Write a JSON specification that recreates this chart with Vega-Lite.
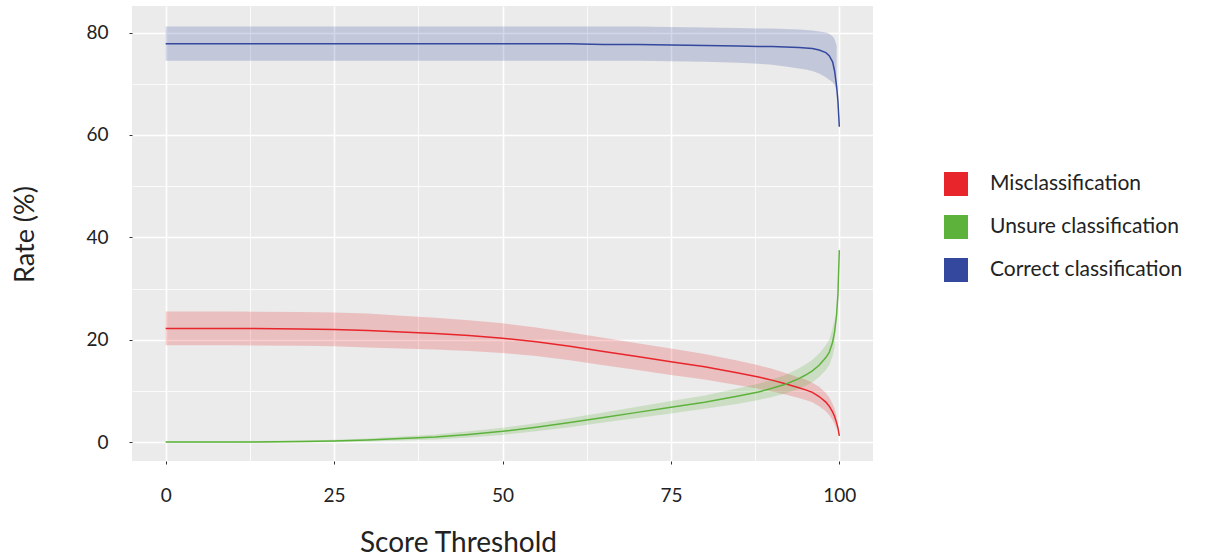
{
  "$schema": "https://vega.github.io/schema/vega-lite/v6.json",
  "autosize": "none",
  "width": 741,
  "height": 455,
  "padding": {"left": 132, "top": 6, "right": 333, "bottom": 96},
  "background": "white",
  "config": {
    "view": {"fill": "#EBEBEB", "stroke": null},
    "font": "Lato"
  },
  "data": {"values": [
    {"s":"Misclassification","x":0,"m":22.2,"lo":18.9,"hi":25.5},
    {"s":"Misclassification","x":10,"m":22.2,"lo":18.9,"hi":25.5},
    {"s":"Misclassification","x":20,"m":22.1,"lo":18.8,"hi":25.4},
    {"s":"Misclassification","x":25,"m":22.0,"lo":18.7,"hi":25.3},
    {"s":"Misclassification","x":30,"m":21.8,"lo":18.5,"hi":25.1},
    {"s":"Misclassification","x":35,"m":21.5,"lo":18.3,"hi":24.7},
    {"s":"Misclassification","x":40,"m":21.2,"lo":18.1,"hi":24.3},
    {"s":"Misclassification","x":45,"m":20.8,"lo":17.8,"hi":23.8},
    {"s":"Misclassification","x":50,"m":20.3,"lo":17.4,"hi":23.2},
    {"s":"Misclassification","x":55,"m":19.6,"lo":16.8,"hi":22.4},
    {"s":"Misclassification","x":60,"m":18.7,"lo":16.0,"hi":21.4},
    {"s":"Misclassification","x":65,"m":17.7,"lo":15.0,"hi":20.4},
    {"s":"Misclassification","x":70,"m":16.7,"lo":14.1,"hi":19.3},
    {"s":"Misclassification","x":75,"m":15.7,"lo":13.1,"hi":18.3},
    {"s":"Misclassification","x":80,"m":14.7,"lo":12.2,"hi":17.2},
    {"s":"Misclassification","x":85,"m":13.5,"lo":11.1,"hi":15.9},
    {"s":"Misclassification","x":88,"m":12.7,"lo":10.4,"hi":15.0},
    {"s":"Misclassification","x":90,"m":12.1,"lo":9.9,"hi":14.3},
    {"s":"Misclassification","x":92,"m":11.4,"lo":9.3,"hi":13.5},
    {"s":"Misclassification","x":94,"m":10.6,"lo":8.6,"hi":12.6},
    {"s":"Misclassification","x":95,"m":10.2,"lo":8.2,"hi":12.2},
    {"s":"Misclassification","x":96,"m":9.7,"lo":7.8,"hi":11.6},
    {"s":"Misclassification","x":97,"m":8.9,"lo":7.0,"hi":10.8},
    {"s":"Misclassification","x":98,"m":7.8,"lo":6.0,"hi":9.6},
    {"s":"Misclassification","x":98.5,"m":7.0,"lo":5.3,"hi":8.7},
    {"s":"Misclassification","x":99,"m":5.9,"lo":4.3,"hi":7.5},
    {"s":"Misclassification","x":99.3,"m":5.0,"lo":3.5,"hi":6.5},
    {"s":"Misclassification","x":99.6,"m":3.8,"lo":2.5,"hi":5.1},
    {"s":"Misclassification","x":99.8,"m":2.7,"lo":null,"hi":null},
    {"s":"Misclassification","x":100,"m":1.2,"lo":null,"hi":null},
    {"s":"Unsure classification","x":0,"m":0.0,"lo":-0.2,"hi":0.2},
    {"s":"Unsure classification","x":10,"m":0.0,"lo":-0.2,"hi":0.2},
    {"s":"Unsure classification","x":20,"m":0.1,"lo":-0.1,"hi":0.3},
    {"s":"Unsure classification","x":25,"m":0.2,"lo":-0.05,"hi":0.45},
    {"s":"Unsure classification","x":30,"m":0.4,"lo":0.1,"hi":0.7},
    {"s":"Unsure classification","x":35,"m":0.7,"lo":0.3,"hi":1.1},
    {"s":"Unsure classification","x":40,"m":1.0,"lo":0.5,"hi":1.5},
    {"s":"Unsure classification","x":45,"m":1.5,"lo":0.9,"hi":2.1},
    {"s":"Unsure classification","x":50,"m":2.1,"lo":1.4,"hi":2.8},
    {"s":"Unsure classification","x":55,"m":2.9,"lo":2.1,"hi":3.7},
    {"s":"Unsure classification","x":60,"m":3.8,"lo":2.9,"hi":4.7},
    {"s":"Unsure classification","x":65,"m":4.8,"lo":3.8,"hi":5.8},
    {"s":"Unsure classification","x":70,"m":5.8,"lo":4.7,"hi":6.9},
    {"s":"Unsure classification","x":75,"m":6.8,"lo":5.6,"hi":8.0},
    {"s":"Unsure classification","x":80,"m":7.8,"lo":6.5,"hi":9.1},
    {"s":"Unsure classification","x":85,"m":9.0,"lo":7.5,"hi":10.5},
    {"s":"Unsure classification","x":88,"m":9.8,"lo":8.2,"hi":11.4},
    {"s":"Unsure classification","x":90,"m":10.5,"lo":8.8,"hi":12.2},
    {"s":"Unsure classification","x":92,"m":11.3,"lo":9.5,"hi":13.1},
    {"s":"Unsure classification","x":94,"m":12.4,"lo":10.4,"hi":14.4},
    {"s":"Unsure classification","x":95,"m":13.1,"lo":11.0,"hi":15.2},
    {"s":"Unsure classification","x":96,"m":13.9,"lo":11.7,"hi":16.1},
    {"s":"Unsure classification","x":97,"m":15.0,"lo":12.7,"hi":17.3},
    {"s":"Unsure classification","x":98,"m":16.5,"lo":14.1,"hi":18.9},
    {"s":"Unsure classification","x":98.5,"m":17.5,"lo":15.0,"hi":20.0},
    {"s":"Unsure classification","x":99,"m":19.5,"lo":16.8,"hi":22.2},
    {"s":"Unsure classification","x":99.3,"m":21.5,"lo":18.6,"hi":24.4},
    {"s":"Unsure classification","x":99.6,"m":25.0,"lo":null,"hi":null},
    {"s":"Unsure classification","x":99.8,"m":29.0,"lo":null,"hi":null},
    {"s":"Unsure classification","x":100,"m":37.5,"lo":null,"hi":null},
    {"s":"Correct classification","x":0,"m":77.8,"lo":74.5,"hi":81.2},
    {"s":"Correct classification","x":10,"m":77.8,"lo":74.5,"hi":81.2},
    {"s":"Correct classification","x":20,"m":77.8,"lo":74.5,"hi":81.2},
    {"s":"Correct classification","x":25,"m":77.8,"lo":74.5,"hi":81.2},
    {"s":"Correct classification","x":30,"m":77.8,"lo":74.5,"hi":81.2},
    {"s":"Correct classification","x":35,"m":77.8,"lo":74.5,"hi":81.2},
    {"s":"Correct classification","x":40,"m":77.8,"lo":74.5,"hi":81.2},
    {"s":"Correct classification","x":45,"m":77.8,"lo":74.5,"hi":81.2},
    {"s":"Correct classification","x":50,"m":77.8,"lo":74.5,"hi":81.2},
    {"s":"Correct classification","x":55,"m":77.8,"lo":74.5,"hi":81.2},
    {"s":"Correct classification","x":60,"m":77.8,"lo":74.5,"hi":81.2},
    {"s":"Correct classification","x":65,"m":77.7,"lo":74.5,"hi":81.2},
    {"s":"Correct classification","x":70,"m":77.7,"lo":74.5,"hi":81.2},
    {"s":"Correct classification","x":75,"m":77.6,"lo":74.4,"hi":81.1},
    {"s":"Correct classification","x":80,"m":77.5,"lo":74.3,"hi":81.0},
    {"s":"Correct classification","x":85,"m":77.4,"lo":74.1,"hi":80.9},
    {"s":"Correct classification","x":88,"m":77.3,"lo":73.9,"hi":80.8},
    {"s":"Correct classification","x":90,"m":77.3,"lo":73.7,"hi":80.8},
    {"s":"Correct classification","x":92,"m":77.2,"lo":73.4,"hi":80.7},
    {"s":"Correct classification","x":94,"m":77.1,"lo":73.0,"hi":80.6},
    {"s":"Correct classification","x":95,"m":77.0,"lo":72.8,"hi":80.5},
    {"s":"Correct classification","x":96,"m":76.9,"lo":72.5,"hi":80.4},
    {"s":"Correct classification","x":97,"m":76.6,"lo":72.0,"hi":80.2},
    {"s":"Correct classification","x":98,"m":76.1,"lo":71.3,"hi":80.0},
    {"s":"Correct classification","x":98.5,"m":75.5,"lo":70.8,"hi":79.8},
    {"s":"Correct classification","x":99,"m":74.3,"lo":70.3,"hi":79.3},
    {"s":"Correct classification","x":99.3,"m":72.5,"lo":69.8,"hi":78.7},
    {"s":"Correct classification","x":99.6,"m":69.5,"lo":68.5,"hi":77.5},
    {"s":"Correct classification","x":99.8,"m":66.5,"lo":null,"hi":null},
    {"s":"Correct classification","x":100,"m":61.6,"lo":null,"hi":null}
  ]},
  "encoding": {
    "x": {
      "field": "x", "type": "quantitative",
      "scale": {"domain": [-5, 105], "nice": false, "zero": false},
      "axis": {
        "values": [0, 12.5, 25, 37.5, 50, 62.5, 75, 87.5, 100],
        "title": "Score Threshold",
        "titleFont": "Lato", "titleFontSize": 28, "titleFontWeight": "normal", "titleColor": "#222",
        "titleX": 326, "titleY": 82, "titleBaseline": "middle", "titleAlign": "center",
        "labelExpr": "datum.value % 25 === 0 ? datum.label : ''",
        "labelFont": "Lato", "labelFontSize": 19, "labelColor": "#222", "labelPadding": 22,
        "domain": false,
        "tickSize": 3, "tickColor": "#333",
        "tickOpacity": {"condition": {"test": "datum.value % 25 === 0", "value": 1}, "value": 0},
        "grid": true, "gridColor": "white",
        "gridWidth": {"condition": {"test": "datum.value % 25 === 0", "value": 1.6}, "value": 0.8}
      }
    },
    "color": {
      "field": "s", "type": "nominal",
      "scale": {"domain": ["Misclassification", "Unsure classification", "Correct classification"],
                "range": ["#E8252B", "#5DB23C", "#34489E"]},
      "legend": {
        "orient": "none", "legendX": 812, "legendY": 166, "title": null, "padding": 0,
        "symbolType": "square", "symbolSize": 576, "symbolStrokeWidth": 0, "symbolOpacity": 1,
        "labelFont": "Lato", "labelFontSize": 21, "labelColor": "#222", "labelOffset": 22,
        "labelLimit": 0,
        "rowPadding": 19
      }
    }
  },
  "layer": [
    {
      "mark": {"type": "area", "fillOpacity": 0.22},
      "encoding": {
        "y": {"field": "lo", "type": "quantitative",
          "scale": {"domain": [-3.7, 85.2], "nice": false, "zero": false}},
        "y2": {"field": "hi"}
      }
    },
    {
      "mark": {"type": "line", "strokeWidth": 1.5},
      "encoding": {
        "y": {
          "field": "m", "type": "quantitative",
          "scale": {"domain": [-3.7, 85.2], "nice": false, "zero": false},
          "axis": {
            "values": [0, 10, 20, 30, 40, 50, 60, 70, 80],
            "title": "Rate (%)",
            "titleFont": "Lato", "titleFontSize": 27, "titleFontWeight": "normal", "titleColor": "#222",
            "titleAngle": -90, "titleX": -107, "titleY": 228, "titleAlign": "center", "titleBaseline": "middle",
            "labelExpr": "datum.value % 20 === 0 ? datum.label : ''",
            "labelFont": "Lato", "labelFontSize": 19, "labelColor": "#222", "labelPadding": 21,
            "domain": false,
            "tickSize": 3, "tickColor": "#333",
            "tickOpacity": {"condition": {"test": "datum.value % 20 === 0", "value": 1}, "value": 0},
            "grid": true, "gridColor": "white",
            "gridWidth": {"condition": {"test": "datum.value % 20 === 0", "value": 1.6}, "value": 0.8}
          }
        }
      }
    }
  ]
}
